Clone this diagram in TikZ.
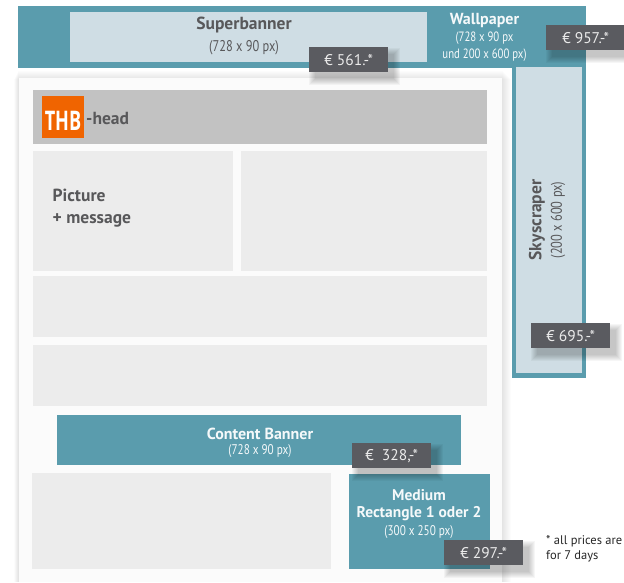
\documentclass[tikz,border=0pt]{standalone}
\usepackage{fontspec}
\setmainfont{PT Sans}
\newfontfamily\narrowfont[FakeStretch=0.8]{PT Sans}
\newfontfamily\thbfont[FakeStretch=0.67]{Open Sans}
\usepackage{xcolor}
\usetikzlibrary{calc}
\definecolor{prteal}{HTML}{5A9CAD}
\definecolor{prlight}{HTML}{CFDDE4}
\definecolor{prpage}{HTML}{FBFBFB}
\definecolor{prslot}{HTML}{ECECEC}
\definecolor{prhead}{HTML}{C2C2C2}
\definecolor{prorange}{HTML}{F06400}
\definecolor{prbadge}{HTML}{5A5B60}
\definecolor{prtext}{HTML}{58585A}
\tikzset{
  prtitle/.style={font=\fontsize{17.5}{18}\selectfont\bfseries,align=center,inner sep=0pt},
  prsmalltitle/.style={font=\fontsize{16}{18}\selectfont\bfseries,align=center,inner sep=0pt},
  prsize/.style={font=\fontsize{15.5}{17}\selectfont\narrowfont,align=center,inner sep=0pt},
  prprice/.style={fill=prbadge,text=white!92!black,minimum width=79pt,minimum height=25pt,inner sep=0pt,font=\fontsize{15.5}{16}\selectfont},
}
\newcommand{\prbox}[5]{\fill[#1] ($(O)+(#2,#3)$) rectangle ($(O)+(#4,#5)$);}
\newcommand{\prshadow}[4]{\foreach \r in {1,...,7} {\fill[black,opacity=0.035] ($(O)+(#1-7+\r+6,#2-7+\r+7)$) rectangle ($(O)+(#3+7-\r+6,#4+7-\r+7)$);}}
\newcommand{\prprice}[4]{\prshadow{#2}{#3}{#2+79}{#3+25}
  \node[prprice,anchor=north west] (#1) at ($(O)+(#2,#3)$) {#4};}

\begin{document}
\begin{tikzpicture}[x=1pt,y=-1pt]
    \coordinate (O) at (0,0);
    \useasboundingbox (0,0) rectangle (624,582);

    % wallpaper
    \prbox{prteal}{18}{6}{586}{67.5}
    \prbox{prteal}{512}{67}{586}{378}
    \prbox{prlight}{516}{67}{582}{373}
    \prbox{prlight}{70}{12}{427}{62}

    % page
    \foreach \r in {1,...,9} {\fill[black,opacity=0.012] ($(O)+(19-\r*0.55,70+\r)$) rectangle ($(O)+(502+\r,582)$);}
    \prbox{prpage}{19}{77.5}{502}{582}
    \prbox{prhead}{33}{90}{487}{143.5}
    \prbox{prslot}{33}{151}{233}{271}
    \prbox{prslot}{241}{151}{487}{271}
    \prbox{prslot}{33}{276}{487}{337}
    \prbox{prslot}{33}{345}{487}{406}
    \prbox{prslot}{32}{473}{331}{569}
    \prbox{prteal}{57}{415}{461}{465}
    \prbox{prteal}{348.5}{474}{490}{569}

    % logo
    \node[fill=prorange,minimum size=42pt,inner sep=0pt,anchor=north west] (logo) at ($(O)+(42,96)$) {};
    \node[text=white,font=\fontsize{27}{27}\selectfont\bfseries\thbfont,inner sep=0pt] (logotext) at ($(O)+(63,120.5)$) {THB};

    % labels
    \node[prtitle,text=prtext] (superbanner) at ($(O)+(244,25)$) {Superbanner};
    \node[prsize,text=prtext] (superbannersize) at ($(O)+(244,47.5)$) {(728 x 90 px)};
    \node[prsmalltitle,text=white!94!prteal] (wallpaper) at ($(O)+(484.5,20)$) {Wallpaper};
    \node[prsize,text=white!94!prteal,font=\fontsize{13.5}{17}\selectfont\narrowfont] (wallpapersize) at ($(O)+(484.5,47)$) {(728 x 90 px\\und 200 x 600 px)};
    \node[prtitle,text=prtext,rotate=90] (skyscraper) at ($(O)+(537,220)$) {Skyscraper};
    \node[prsize,text=prtext,rotate=90] (skyscrapersize) at ($(O)+(558,220)$) {(200 x 600 px)};
    \node[prtitle,text=prtext,anchor=west] (head) at ($(O)+(86,118)$) {-head};
    \node[prtitle,text=prtext,anchor=west,align=left,font=\fontsize{17.5}{21.5}\selectfont\bfseries] (picture) at ($(O)+(52.5,208)$) {Picture\\+ message};
    \node[prsmalltitle,text=white!94!prteal] (contentbanner) at ($(O)+(260,434)$) {Content Banner};
    \node[prsize,text=white!94!prteal,font=\fontsize{14}{15}\selectfont\narrowfont] (contentsize) at ($(O)+(260,451.5)$) {(728 x 90 px)};
    \node[prsmalltitle,text=white!94!prteal,font=\fontsize{15.5}{17}\selectfont\bfseries] (medium) at ($(O)+(419,505.5)$) {Medium\\Rectangle 1 oder 2};
    \node[prsize,text=white!94!prteal,font=\fontsize{14}{15}\selectfont\narrowfont] (mediumsize) at ($(O)+(419,532)$) {(300 x 250 px)};

    % prices
    \prprice{pricesuper}{309}{47}{€ 561.-*}
    \prprice{pricewall}{546}{25}{€ 957.-*}
    \prprice{pricesky}{531}{323}{€ 695.-*}
    \prprice{pricecontent}{352}{443}{€\ \ 328,-*}
    \prprice{pricemedium}{444}{540}{€ 297.-*}

    \node[anchor=west,align=left,inner sep=0pt,font=\fontsize{12.5}{15}\selectfont,text=black!85] (note) at ($(O)+(546,548.5)$) {* all prices are\\for 7 days};
\end{tikzpicture}
\end{document}
